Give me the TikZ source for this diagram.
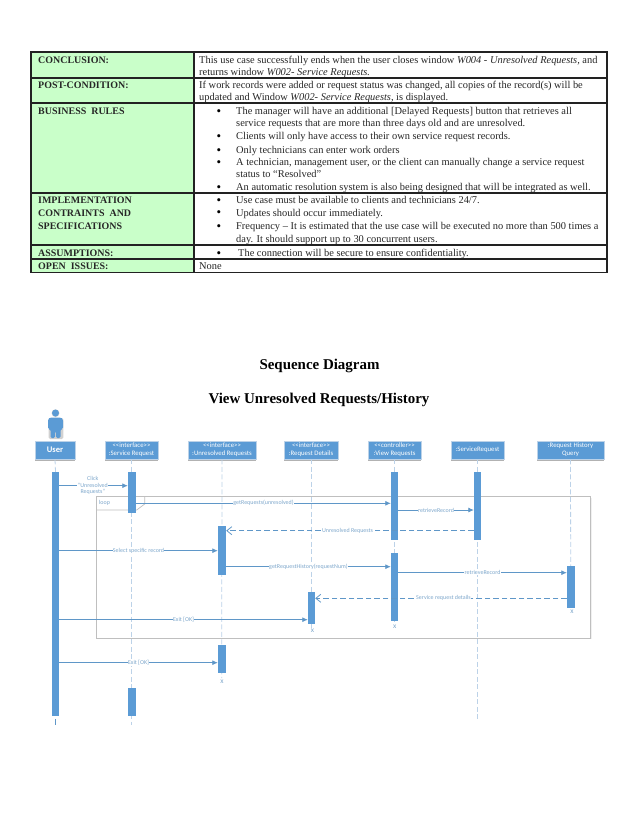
\documentclass[tikz,border=0pt]{standalone}
\usepackage{fontspec}
\setmainfont{Liberation Serif}
\newfontfamily\diag{Carlito}
\usetikzlibrary{arrows.meta,shadows}
\definecolor{barblue}{HTML}{5B9BD5}
\definecolor{msgblue}{HTML}{5F97C8}
\definecolor{lblblue}{HTML}{7FA8CC}
\definecolor{lifeblue}{HTML}{BCD2E8}
\definecolor{cellgreen}{HTML}{C9FFC9}
\definecolor{framegray}{HTML}{BFBFBF}
\definecolor{rulecol}{HTML}{222222}
\tikzset{
  tl/.style={anchor=base west,inner sep=0pt,font=\fontsize{10.45}{12}\selectfont,text=black!85},
  tb/.style={tl,font=\fontsize{10}{12}\selectfont\bfseries},
  bul/.style={anchor=center,inner sep=0pt,font=\fontsize{13}{13}\selectfont,yshift=-2bp},
  cellg/.style={draw=rulecol,line width=1.3bp,fill=cellgreen},
  cellw/.style={draw=rulecol,line width=1.3bp,fill=white},
  ttl/.style={anchor=center,inner sep=0pt,font=\fontsize{15}{17}\selectfont\bfseries},
  headbox/.style={fill=barblue,draw=lifeblue,line width=.6bp,text=white,inner sep=0pt,align=center,
    font=\diag\fontsize{6.8}{8}\selectfont,
    drop shadow={shadow xshift=0bp,shadow yshift=-1.5bp,fill=black,opacity=.3}},
  barbox/.style={fill=barblue,draw=none,inner sep=0pt},
  life/.style={draw=lifeblue,line width=.8bp,dash pattern=on 5bp off 2.5bp},
  msg/.style={draw=msgblue,line width=.8bp,-{Latex[length=5.5bp,width=5bp]}},
  ret/.style={draw=msgblue,line width=.8bp,dash pattern=on 5.5bp off 3bp,-{Straight Barb[length=5bp,width=8bp]}},
  lbl/.style={fill=white,inner sep=.4pt,text=lblblue,font=\diag\fontsize{6}{6.7}\selectfont,align=center},
  xm/.style={text=lblblue,inner sep=0pt,font=\diag\fontsize{7.5}{8}\selectfont},
  loopframe/.style={draw=framegray,line width=.9bp,fill=white,
    drop shadow={shadow xshift=.8bp,shadow yshift=-.8bp,fill=black,opacity=.06}},
}
\begin{document}
\begin{tikzpicture}[x=1bp,y=-1bp]
\useasboundingbox[fill=white] (0,0) rectangle (638,826);
% table cells
\path[cellg] (31,52) rectangle (194,78);
\path[cellw] (194,52) rectangle (607,78);
\path[cellg] (31,78) rectangle (194,103);
\path[cellw] (194,78) rectangle (607,103);
\path[cellg] (31,103) rectangle (194,193);
\path[cellw] (194,103) rectangle (607,193);
\path[cellg] (31,193) rectangle (194,245);
\path[cellw] (194,193) rectangle (607,245);
\path[cellg] (31,245) rectangle (194,259);
\path[cellw] (194,245) rectangle (607,259);
\path[cellg] (31,259) rectangle (194,272.5);
\path[cellw] (194,259) rectangle (607,272.5);
% left column
\node[tb] (l1) at (38,63.5) {CONCLUSION:};
\node[tb] (l2) at (38,88.5) {POST-CONDITION:};
\node[tb] (l3) at (38,114) {BUSINESS\ \ RULES};
\node[tb] (l4a) at (38,203.5) {IMPLEMENTATION};
\node[tb] (l4b) at (38,216) {CONTRAINTS\ \ AND};
\node[tb] (l4c) at (38,229) {SPECIFICATIONS};
\node[tb] (l5) at (38,256) {ASSUMPTIONS:};
\node[tb] (l6) at (38,269.5) {OPEN\ \ ISSUES:};
% right column
\node[tl] (r1a) at (199,63.5) {This use case successfully ends when the user closes window \textit{W004 - Unresolved Requests,} and};
\node[tl] (r1b) at (199,75) {returns window \textit{W002- Service Requests.}};
\node[tl] (r2a) at (199,88.5) {If work records were added or request status was changed, all copies of the record(s) will be};
\node[tl] (r2b) at (199,100.5) {updated and Window \textit{W002- Service Requests,} is displayed.};
\node[bul] (b1) at (219,110.5) {•};
\node[tl] (r3a) at (236,114) {The manager will have an additional [Delayed Requests] button that retrieves all};
\node[tl] (r3b) at (236,126.5) {service requests that are more than three days old and are unresolved.};
\node[bul] (b2) at (219,135.5) {•};
\node[tl] (r3c) at (236,139) {Clients will only have access to their own service request records.};
\node[bul] (b3) at (219,149.5) {•};
\node[tl] (r3d) at (236,153) {Only technicians can enter work orders};
\node[bul] (b4) at (219,161.5) {•};
\node[tl] (r3e) at (236,165) {A technician, management user, or the client can manually change a service request};
\node[tl] (r3f) at (236,177.5) {status to “Resolved”};
\node[bul] (b5) at (219,186.5) {•};
\node[tl] (r3g) at (236,190) {An automatic resolution system is also being designed that will be integrated as well.};
\node[bul] (b6) at (219,199.5) {•};
\node[tl] (r4a) at (236,203.5) {Use case must be available to clients and technicians 24/7.};
\node[bul] (b7) at (219,212) {•};
\node[tl] (r4b) at (236,216) {Updates should occur immediately.};
\node[bul] (b8) at (219,225.5) {•};
\node[tl] (r4c) at (236,229) {Frequency – It is estimated that the use case will be executed no more than 500 times a};
\node[tl] (r4d) at (236,242) {day. It should support up to 30 concurrent users.};
\node[bul] (b9) at (219,252.5) {•};
\node[tl] (r5) at (238,256) {The connection will be secure to ensure confidentiality.};
\node[tl] (r6) at (199,269.5) {None};
% titles
\node[ttl] (t1) at (319.5,365.5) {Sequence Diagram};
\node[ttl] (t2) at (319,399.5) {View Unresolved Requests/History};
% loop frame
\path[loopframe] (96.7,496.7) rectangle (590.7,638.3);
\draw[framegray,line width=.7bp] (96.7,510) -- (136.7,510) -- (144.7,504) -- (144.7,496.7);
\node[lbl,fill=none,anchor=west] (looplbl) at (98.5,503.3) {loop};
% actor
\fill[black,opacity=.18] (55.5,413.2) circle (3.9bp);
\fill[black,opacity=.18,rounded corners=1.5bp] (48.6,418) rectangle (63.4,439);
\fill[barblue] (55.5,413) circle (3.5bp);
\fill[barblue,rounded corners=1.5bp] (50,417.5) -- (61,417.5) -- (63,419) -- (63,429) -- (60.5,429) -- (60.5,438) -- (56,438) -- (56,431) -- (55,431) -- (55,438) -- (50.5,438) -- (50.5,429) -- (48,429) -- (48,419) -- cycle;
% heads
\node[headbox,font=\diag\bfseries\fontsize{8.6}{9}\selectfont,minimum width=40bp,minimum height=18bp] (hU) at (55,450) {User};
\node[headbox,minimum width=53bp,minimum height=18bp] (hS) at (131.5,450) {<<interface>>\\:Service Request};
\node[headbox,minimum width=68bp,minimum height=18bp] (hR) at (222,450) {<<interface>>\\:Unresolved Requests};
\node[headbox,minimum width=54bp,minimum height=18bp] (hD) at (311,450) {<<interface>>\\:Request Details};
\node[headbox,minimum width=53bp,minimum height=18bp] (hV) at (394.5,450) {<<controller>>\\:View Requests};
\node[headbox,minimum width=53bp,minimum height=18bp] (hQ) at (477.5,450) {:ServiceRequest};
\node[headbox,minimum width=67bp,minimum height=18bp] (hH) at (570.5,450) {:Request History\\Query};
% lifeline ends
\coordinate (eU) at (55.5,725);
\coordinate (eS) at (131.5,725);
\coordinate (eR) at (221.7,678);
\coordinate (eD) at (311,628);
\coordinate (eV) at (394.5,622);
\coordinate (eQ) at (477.5,719);
\coordinate (eH) at (570.7,566);
\draw[life] (hU.south) -- (55.5,472);
\draw[msgblue,line width=.8bp] (55.5,719) -- (eU);
\draw[life] (hS.south) -- (eS);
\draw[life] (hR.south) -- (eR);
\draw[life] (hD.south) -- (eD);
\draw[life] (hV.south) -- (eV);
\draw[life] (hQ.south) -- (eQ);
\draw[life] (hH.south) -- (eH);
% activation bars
\node[barbox,minimum width=7bp,minimum height=243.7bp] (aU) at (55.5,593.85) {};
\node[barbox,minimum width=8bp,minimum height=40.7bp] (aS) at (132,492.35) {};
\node[barbox,minimum width=8bp,minimum height=27.7bp] (aS2) at (132,701.85) {};
\node[barbox,minimum width=8bp,minimum height=48.7bp] (aR) at (222,550.35) {};
\node[barbox,minimum width=8bp,minimum height=27.7bp] (aR2) at (222,658.85) {};
\node[barbox,minimum width=7bp,minimum height=31.7bp] (aD) at (311.5,607.85) {};
\node[barbox,minimum width=7bp,minimum height=67.7bp] (aV) at (394.5,505.85) {};
\node[barbox,minimum width=7bp,minimum height=67.7bp] (aV2) at (394.5,586.85) {};
\node[barbox,minimum width=7bp,minimum height=67.7bp] (aQ) at (477.5,505.85) {};
\node[barbox,minimum width=8bp,minimum height=41.7bp] (aH) at (571,586.85) {};
% destroy marks
\node[xm] (x1) at (222,682.2) {x};
\node[xm] (x2) at (312.6,631.2) {x};
\node[xm] (x3) at (394.7,627.2) {x};
\node[xm] (x4) at (572,612.2) {x};
% messages
\coordinate (y1) at (0,485.7);
\coordinate (y2) at (0,503.3);
\coordinate (y3) at (0,510);
\coordinate (y4) at (0,530.7);
\coordinate (y5) at (0,550.7);
\coordinate (y6) at (0,566.7);
\coordinate (y7) at (0,572.7);
\coordinate (y8) at (0,598.3);
\coordinate (y9) at (0,619.7);
\coordinate (y10) at (0,662.7);
\draw[msg] (aU.east |- y1) -- node[lbl,pos=.49] (m1) {Click\\“Unresolved\\Requests”} (aS.west |- y1);
\draw[msg] (aS.east |- y2) -- node[lbl,pos=.5] (m2) {getRequests(unresolved)} (aV.west |- y2);
\draw[msg] (aV.east |- y3) -- node[lbl,pos=.5] (m3) {retrieveRecord} (aQ.west |- y3);
\draw[ret] (aQ.west |- y4) -- node[lbl,pos=.51] (m4) {Unresolved Requests} (aR.east |- y4);
\draw[msg] (aU.east |- y5) -- node[lbl,pos=.5] (m5) {Select specific record} (aR.west |- y5);
\draw[msg] (aR.east |- y6) -- node[lbl,pos=.5] (m6) {getRequestHistory(requestNum)} (aV2.west |- y6);
\draw[msg] (aV2.east |- y7) -- node[lbl,pos=.5] (m7) {retrieveRecord} (aH.west |- y7);
\draw[ret] (aH.west |- y8) -- node[lbl,pos=.49] (m8) {Service request details} (aD.east |- y8);
\draw[msg] (aU.east |- y9) -- node[lbl,pos=.5] (m9) {Exit [OK]} (aD.west |- y9);
\draw[msg] (aU.east |- y10) -- node[lbl,pos=.5] (m10) {Exit [OK]} (aR2.west |- y10);
\end{tikzpicture}
\end{document}
